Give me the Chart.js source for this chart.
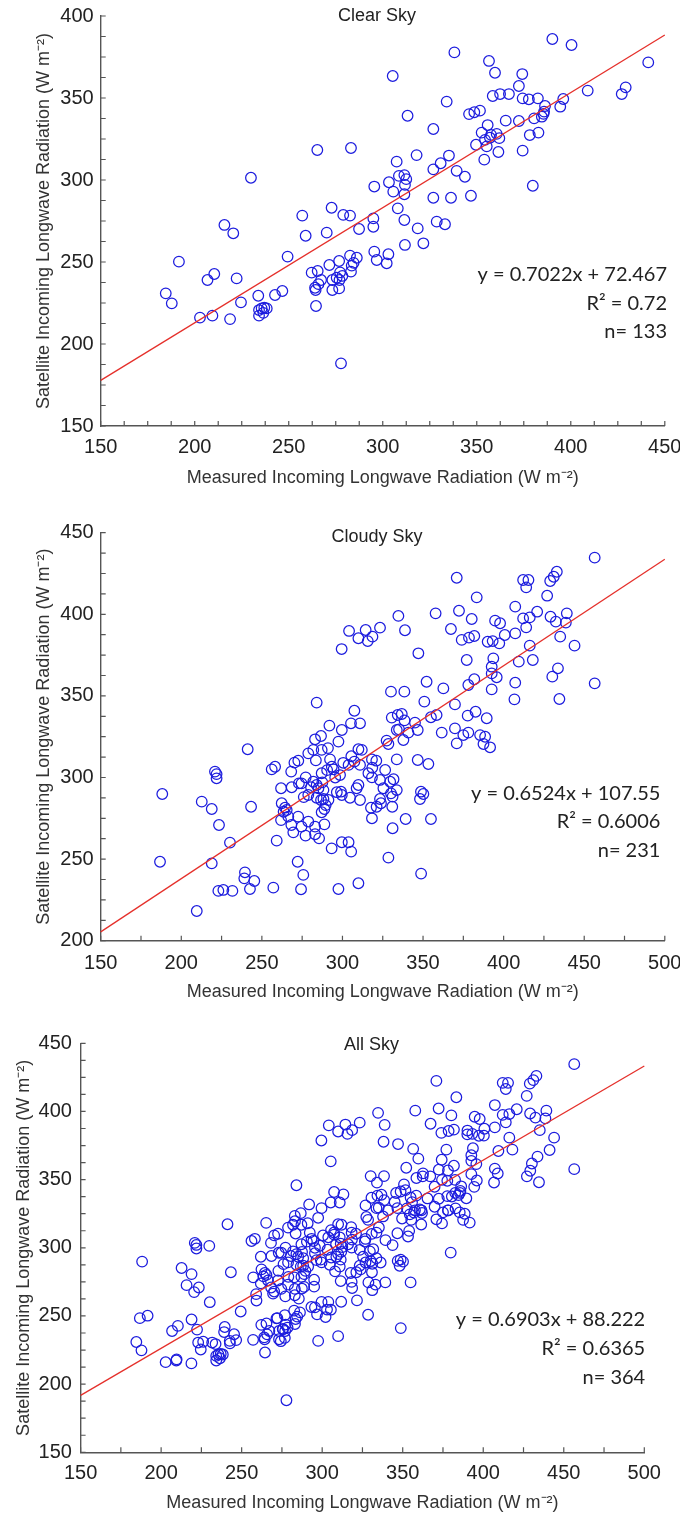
<!DOCTYPE html>
<html><head><meta charset="utf-8">
<script src="https://cdn.jsdelivr.net/npm/chart.js@4.4.0/dist/chart.umd.min.js"></script>
<style>
html,body{margin:0;padding:0;background:#fff;}
#wrap{position:relative;width:680px;height:1516px;overflow:hidden;}
canvas{position:absolute;left:0;}
</style></head><body>
<div id="wrap">
<canvas id="c1" width="680" height="505" style="top:0px;width:680px;height:505px"></canvas>
<canvas id="c2" width="680" height="505" style="top:505px;width:680px;height:505px"></canvas>
<canvas id="c3" width="680" height="506" style="top:1010px;width:680px;height:506px"></canvas>
</div>
<script>
// ---------------- data ----------------
const panelTitles = ["Clear Sky", "Cloudy Sky", "All Sky"];
const xAxisTitle = "Measured Incoming Longwave Radiation (W m\u207B\u00B2)";
const yAxisTitle = "Satellite Incoming Longwave Radiation (W m\u207B\u00B2)";

// measured (x), satellite (y) pairs, clear-sky cases
const clearSky = [
[338.1,377.8],[356.5,372.6],[359.7,365.4],[305.3,363.4],[358.5,351.2],[362.4,352.4],[367.1,352.4],[334.0,347.8],
[345.9,340.2],[348.7,341.3],[351.7,342.3],[313.2,339.2],[365.4,336.2],[355.8,333.5],[326.9,331.1],[352.6,328.9],
[357.6,327.5],[360.6,328.1],[362.0,325.5],[354.4,324.5],[349.6,321.5],[355.3,320.5],[354.0,312.4],[361.5,317.1],
[265.2,318.3],[283.1,319.5],[307.4,311.2],[318.0,315.2],[326.9,306.5],[330.8,310.2],[335.2,314.9],[339.3,305.6],
[343.7,302.0],
[229.9,301.4],[295.5,296.0],[303.3,298.6],[308.6,302.5],[311.5,303.0],[311.8,297.0],[305.6,292.9],[311.5,291.3],
[326.9,289.2],[336.3,289.2],[346.9,290.4],
[272.8,283.1],[257.2,278.3],[279.0,278.7],[282.6,278.3],[259.0,266.0],[270.2,267.9],[287.4,270.1],[295.0,276.6],
[295.0,271.5],[308.0,282.7],[311.5,275.6],[318.6,270.5],[328.7,274.6],[333.1,273.0],[311.8,260.4],[321.6,261.4],
[215.8,272.6],[220.5,267.5],[191.6,250.2],[249.4,253.3],[206.8,239.0],[210.4,242.7],[222.3,240.0],[184.6,230.9],
[187.8,224.8],[202.8,216.1],[209.4,217.3],[218.8,215.2],[224.6,225.4],[233.8,229.4],[234.2,220.7],[235.6,221.7],
[237.0,222.1],[238.3,221.7],[234.2,217.3],[242.7,229.9],[246.6,232.3],
[262.2,243.5],[265.4,244.5],[264.0,234.3],[264.3,232.9],[267.2,239.0],[271.6,248.2],[273.2,239.0],[273.2,232.9],
[276.8,250.6],[277.3,243.7],[277.0,239.0],[276.8,233.9],[275.5,240.4],[282.6,253.9],[286.2,252.6],[283.5,247.8],
[283.1,244.1],[264.5,223.2],
[295.5,256.3],[296.8,251.2],[303.0,254.7],[302.1,249.2],
[277.8,188.2],
[390.2,386.0],[400.4,382.3],[441.2,371.7],[374.2,364.6],[372.4,357.3],[429.2,356.5],[427.1,352.4],[409.0,354.5],
[374.4,349.8],[377.7,349.2],[382.5,349.8],[396.0,349.4],[394.4,344.7],[386.3,345.1],[385.8,341.7],[384.6,338.6],
[380.5,337.6],[372.4,336.0],[378.2,327.4],[382.8,328.9],[374.4,317.9],[379.8,296.5],
[236.5,219.0],[278.5,241.5],[357.0,325.8],[284.5,249.5],[265.8,236.5],[312.5,300.5],[385.5,340.3]
];

// measured (x), satellite (y) pairs, cloudy-sky cases
const cloudySky = [
[456.5,434.7],[433.0,426.1],[431.1,423.0],[428.9,420.4],[412.1,421.0],[415.4,421.0],[414.0,416.5],[427.0,411.4],
[407.2,404.7],[420.8,401.6],[412.1,397.5],[416.2,398.1],[414.0,392.0],[429.1,398.5],[439.2,400.6],[432.4,395.5],
[438.6,394.9],[435.1,386.3],[444.0,380.8],[416.2,380.8],[407.2,388.3],[409.4,371.0],[418.1,372.0],[433.7,366.9],
[430.2,361.8],[407.2,358.1],[456.5,357.7],[434.6,348.1],[406.7,347.9],[400.7,387.3],
[370.9,422.4],[383.3,410.4],[334.7,399.0],[357.8,400.6],[372.3,402.2],[380.2,397.1],[394.7,396.1],[397.8,394.5],
[304.1,389.8],[314.4,390.4],[323.3,391.8],[309.9,385.3],[315.7,383.6],[318.6,386.3],[338.8,390.2],[367.3,391.0],
[374.0,384.3],[378.5,385.7],[381.8,386.7],[390.1,383.2],[393.2,383.6],[397.3,382.2],[299.5,378.7],[347.1,376.1],
[377.1,372.0],[393.6,373.0],[392.6,367.9],
[352.2,358.7],[362.6,354.6],[378.1,356.7],[381.8,360.2],[392.6,363.8],[395.7,361.4],[392.6,354.0],[330.1,352.6],
[338.4,352.6],[350.8,346.5],[369.8,344.8],[284.0,345.9],[307.4,340.9],[330.6,336.7],[334.3,338.3],[336.8,338.9],
[354.9,336.9],[358.4,338.3],[377.7,337.9],[382.6,340.3],[389.5,336.3],[291.9,331.8],[299.6,329.1],[305.3,333.2],
[310.9,333.2],[283.0,323.4],[286.7,325.4],[297.5,322.0],[327.4,322.6],[333.7,329.1],[335.1,329.5],[340.9,327.5],
[345.0,333.6],[346.7,329.1],[361.6,327.5],[369.8,330.1],[370.9,320.9],[375.0,326.0],[378.1,327.5],[385.4,326.0],
[387.5,320.5],[388.5,325.0],[391.6,318.5],[337.8,323.0],[241.2,317.3],[281.9,316.9],[287.1,316.9],[309.9,317.3],
[312.0,316.9],[328.5,320.5],[346.7,310.7],[353.3,308.3],[278.8,314.8],[220.9,303.6],[221.9,302.1],[221.9,299.5],
[256.1,305.0],[258.2,306.6],[270.2,309.1],[272.6,310.3],[268.2,303.6],[292.3,311.1],[293.4,306.6],[294.5,305.0],
[303.8,307.7],[307.4,309.7],[310.9,307.7],[318.3,311.1],[321.0,310.3],[326.5,304.6],[333.7,311.1],[277.2,300.1],
[274.6,296.4],[281.9,297.4],[284.0,295.4],[285.1,293.4],[288.2,292.3],[287.1,302.6],[298.5,301.5],[316.1,302.6],
[318.3,300.1],[323.3,298.5],[329.6,297.4],[331.7,298.9],[325.4,293.4],[261.9,293.4],[268.5,294.0],[273.0,296.4],
[280.5,294.0],[299.1,291.3],[308.8,293.4],[309.9,295.4],[330.1,290.3],[333.7,292.3],[348.7,291.3],[350.2,289.9],
[188.2,289.9],
[212.7,285.2],[218.9,280.7],[243.3,282.1],[223.4,270.9],[230.2,260.1],[186.8,248.4],[218.9,247.4],[239.5,241.9],
[239.1,238.2],[245.3,236.6],[223.0,230.5],[226.1,231.1],[231.7,230.5],[242.6,231.7],[257.1,232.5],[274.3,231.5],
[297.5,231.7],[309.9,235.2],[209.6,218.2],[259.2,261.3],[272.2,248.4],[275.7,240.3],[293.3,256.6],[299.6,260.3],
[303.8,260.3],[305.4,254.6],[328.5,250.9],[348.8,241.1],[261.9,273.9],[268.3,270.9],[269.5,266.4],[274.6,269.9],
[277.1,264.4],[278.8,273.0],[283.0,269.9],[283.0,265.2],[285.5,262.7],[288.8,271.3],[287.1,278.7],[288.8,280.7],
[289.6,283.1],[286.7,286.2],[291.3,286.2],[264.4,281.5],[265.4,280.1],[262.3,284.2],[266.4,276.0],[310.9,286.2],
[318.3,275.0],[317.7,281.5],[321.2,282.1],[323.9,284.2],[330.9,282.1],[331.1,268.9],[339.2,274.6],[354.9,274.6],
[348.1,286.8],[299.6,289.3],[304.7,287.6],[331.1,288.3],[323.3,286.8],[278.8,289.3],[284.0,287.6],[288.2,286.8],
[290.5,304.5],[300.5,309.0],[287.5,297.0],[276.0,288.0],[305.5,313.0],[283.5,310.5],[296.5,291.0],[263.5,279.0],
[272.5,276.0],[318.5,306.0],[338.5,335.0],[291.0,318.0],[295.5,300.0]
];

// all-sky = clear + cloudy cases
const allSky = clearSky.concat(cloudySky);
const panelData = [clearSky, cloudySky, allSky];

// regression statistics printed on each panel
const fitSlope = [0.7022, 0.6524, 0.6903];
const fitIntercept = [72.467, 107.55, 88.222];
const fitR2 = ["0.72", "0.6006", "0.6365"];
const fitN = [133, 231, 364];

// axis ranges and tick spacing
const xRange = [[150, 450], [150, 500], [150, 500]];
const yRange = [[150, 400], [200, 450], [150, 450]];
const xTickStep = [12.5, 25, 25];
const yTickStep = [12.5, 12.5, 12.5];
const labelStep = 50;

// ---------------- layout / style ----------------
const TICK_FONT = "'Liberation Sans', Arial, Helvetica, sans-serif";
const NOTE_FONT = "Lato, 'Open Sans', sans-serif";
const layouts = [
  {canvas:'c1', padTop:16, padRight:15.2, yW:100.7, xH:79, xLabPad:9.5, yLabPad:7, yTitlePad:32.8, xTitlePad:16.2,
   titleX:377, titleY:16, noteX:667, noteY:275, noteGap:28.4},
  {canvas:'c2', padTop:27.7, padRight:15.2, yW:100.7, xH:69.3, xLabPad:10.5, yLabPad:7, yTitlePad:32.8, xTitlePad:7.5,
   titleX:377, titleY:32.3, noteX:660.4, noteY:288.3, noteGap:28.4},
  {canvas:'c3', padTop:33.3, padRight:35.7, yW:80.6, xH:63.7, xLabPad:9.5, yLabPad:8.7, yTitlePad:13.2, xTitlePad:1.9,
   titleX:371.5, titleY:35, noteX:645.2, noteY:310, noteGap:28.6}
];

const tickMarks = {
  id: 'tickMarks',
  beforeDatasetsDraw(chart, args, o) {
    const ctx = chart.ctx, a = chart.chartArea, xs = chart.scales.x, ys = chart.scales.y;
    ctx.save();
    ctx.strokeStyle = o.color; ctx.lineWidth = 1.2;
    ctx.beginPath();
    xs.ticks.forEach(t => { const p = xs.getPixelForValue(t.value); ctx.moveTo(p, a.bottom); ctx.lineTo(p, a.bottom - o.len); });
    ys.ticks.forEach(t => { const p = ys.getPixelForValue(t.value); ctx.moveTo(a.left, p); ctx.lineTo(a.left + o.len, p); });
    ctx.stroke();
    ctx.restore();
  }
};

const panelText = {
  id: 'panelText',
  afterDraw(chart, args, o) {
    const ctx = chart.ctx;
    ctx.save();
    ctx.fillStyle = '#222';
    ctx.textBaseline = 'middle';
    ctx.font = "18px " + TICK_FONT;
    ctx.textAlign = 'center';
    ctx.fillText(o.title, o.titleX, o.titleY);
    ctx.font = "20px " + NOTE_FONT;
    ctx.textAlign = 'right';
    o.lines.forEach((s, i) => ctx.fillText(s, o.noteX, o.noteY + i * o.noteGap));
    ctx.restore();
  }
};

panelData.forEach((pts, i) => {
  const L = layouts[i];
  const x0 = xRange[i][0], x1 = xRange[i][1];
  const fitLine = [x0, x1].map(v => ({x: v, y: fitSlope[i] * v + fitIntercept[i]}));
  new Chart(document.getElementById(L.canvas), {
    data: {
      datasets: [
        {type: 'line', data: fitLine, borderColor: '#e5302b', borderWidth: 1.3, pointRadius: 0, fill: false, clip: false},
        {type: 'scatter', data: pts.map(p => ({x: p[0], y: p[1]})), pointStyle: 'circle', pointRadius: 5.3,
         borderColor: 'rgb(28,28,222)', backgroundColor: 'rgba(0,0,0,0)', borderWidth: 1.25, pointHoverRadius: 5.3, clip: false}
      ]
    },
    options: {
      responsive: false, animation: false, devicePixelRatio: 1,
      layout: {padding: {left: 0, top: L.padTop, right: L.padRight, bottom: 0}},
      plugins: {
        legend: {display: false}, tooltip: {enabled: false}, title: {display: false},
        tickMarks: {color: '#555', len: 5},
        panelText: {title: panelTitles[i], titleX: L.titleX, titleY: L.titleY, noteX: L.noteX, noteY: L.noteY, noteGap: L.noteGap,
          lines: ["y = " + fitSlope[i] + "x + " + fitIntercept[i], "R\u00B2 = " + fitR2[i], "n= " + fitN[i]]}
      },
      scales: {
        x: {
          type: 'linear', position: 'bottom', min: x0, max: x1,
          ticks: {stepSize: xTickStep[i], autoSkip: false, maxRotation: 0, padding: L.xLabPad, color: '#222',
                  font: {family: TICK_FONT, size: 20}, callback: v => (v % labelStep === 0 ? String(v) : '')},
          grid: {display: true, drawOnChartArea: false, drawTicks: false},
          border: {display: true, color: '#555', width: 1.4},
          title: {display: true, text: xAxisTitle, color: '#333', font: {family: TICK_FONT, size: 18}, padding: {top: 0, bottom: L.xTitlePad}},
          afterFit(s) { s.height = L.xH; s.paddingLeft = 0; s.paddingRight = 0; }
        },
        y: {
          type: 'linear', position: 'left', min: yRange[i][0], max: yRange[i][1],
          ticks: {stepSize: yTickStep[i], autoSkip: false, padding: L.yLabPad, color: '#222',
                  font: {family: TICK_FONT, size: 20}, callback: v => (v % labelStep === 0 ? String(v) : '')},
          grid: {display: true, drawOnChartArea: false, drawTicks: false},
          border: {display: true, color: '#555', width: 1.4},
          title: {display: true, text: yAxisTitle, color: '#333', font: {family: TICK_FONT, size: 18}, padding: {top: L.yTitlePad, bottom: 0}},
          afterFit(s) { s.width = L.yW; s.paddingTop = 0; s.paddingBottom = 0; }
        }
      }
    },
    plugins: [tickMarks, panelText]
  });
});
</script>
</body></html>
